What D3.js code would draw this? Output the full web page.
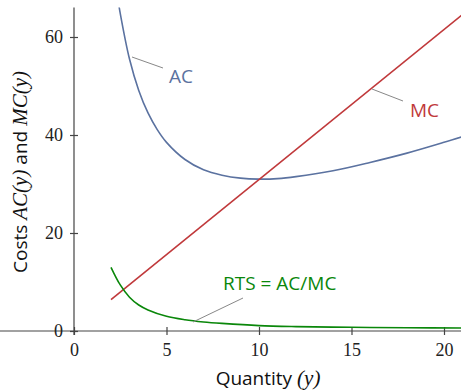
<!DOCTYPE html>
<html lang="en">
  <head>
    <meta charset="UTF-8" />
    <title>Costs AC, MC and RTS</title>
    <script src="https://d3js.org/d3.v7.min.js"></script>
    <style>
      body { margin: 0; background: #fff; }
      .tick text { font-family: "Liberation Serif", serif; font-size: 18px; fill: #222; }
      .domain, .tick line { stroke: #444; stroke-width: 1.2px; }
      .lbl { font-family: "Open Sans", sans-serif; font-size: 19px; }
      .math { font-family: "Liberation Serif", serif; font-style: italic; font-size: 21px; }
      .leader { stroke: #888; stroke-width: 1px; }
    </style>
  </head>
  <body>
    <svg width="461" height="390"></svg>
    <script>
      // values
      const acX = [2.4, 2.5, 3, 3.5, 4, 4.5, 5, 6, 7, 8, 9, 10, 11, 12, 14, 16, 18, 20, 21.2];
      const acY = [67.1, 64.8, 55.5, 49.1, 44.5, 41.1, 38.5, 35.0, 32.9, 31.8, 31.2, 31.0, 31.1, 31.5, 32.7, 34.4, 36.3, 38.5, 39.9];
      const mcX = [2, 21.2];
      const mcY = [6.4, 65.2];
      const rtsX = [2, 2.5, 3, 3.5, 4, 5, 6, 7, 8, 10, 12, 15, 18, 21.2];
      const rtsY = [13.0, 9.4, 6.9, 5.3, 4.3, 3.0, 2.3, 1.85, 1.55, 1.1, 0.9, 0.75, 0.66, 0.6];
      const xTicks = [0, 5, 10, 15, 20];
      const yTicks = [0, 20, 40, 60];

      const svg = d3.select("svg");
      const x = d3.scaleLinear().domain([0, 21.2]).range([74, 466.2]);
      const y = d3.scaleLinear().domain([0, 66]).range([331, 7.6]);

      svg.append("clipPath").attr("id", "plot")
        .append("rect").attr("x", 74).attr("y", y(66)).attr("width", 400).attr("height", 331 - y(66));

      // axes, ticks cross the line
      const gx = svg.append("g").attr("transform", "translate(0,331)")
        .call(d3.axisBottom(x).tickValues(xTicks).tickSize(4).tickSizeOuter(0).tickPadding(8));
      gx.selectAll(".tick line").attr("y1", -4).attr("y2", 4);
      gx.select(".domain").attr("d", "M-4,0H" + x(21.2));
      gx.selectAll(".tick text").attr("dy", "0.71em").attr("y", 12);

      const gy = svg.append("g").attr("transform", "translate(74,0)")
        .call(d3.axisLeft(y).tickValues(yTicks).tickSize(4).tickSizeOuter(0).tickPadding(8));
      gy.selectAll(".tick line").attr("x1", -4).attr("x2", 4);
      gy.select(".domain").attr("d", "M0," + y(66) + "V335");
      gy.selectAll(".tick text").attr("x", -11);

      const line = d3.line().x(d => x(d[0])).y(d => y(d[1])).curve(d3.curveCatmullRom);
      const plot = svg.append("g").attr("clip-path", "url(#plot)");

      plot.append("path").datum(d3.zip(acX, acY)).attr("d", line)
        .attr("fill", "none").attr("stroke", "#5b72a0").attr("stroke-width", 1.6);
      plot.append("path").datum(d3.zip(mcX, mcY)).attr("d", line)
        .attr("fill", "none").attr("stroke", "#c0393b").attr("stroke-width", 1.6);
      plot.append("path").datum(d3.zip(rtsX, rtsY)).attr("d", line)
        .attr("fill", "none").attr("stroke", "#0a870a").attr("stroke-width", 1.6);

      // labels with leader lines
      svg.append("line").attr("class", "leader").attr("x1", 132).attr("y1", 57).attr("x2", 163).attr("y2", 68);
      svg.append("text").attr("class", "lbl").attr("x", 169).attr("y", 83).attr("fill", "#5b72a0").text("AC");

      svg.append("line").attr("class", "leader").attr("x1", 372).attr("y1", 89).attr("x2", 403).attr("y2", 101);
      svg.append("text").attr("class", "lbl").attr("x", 410).attr("y", 117).attr("fill", "#c0393b").text("MC");

      svg.append("line").attr("class", "leader").attr("x1", 193).attr("y1", 322).attr("x2", 243).attr("y2", 298);
      svg.append("text").attr("class", "lbl").attr("x", 223).attr("y", 290).attr("fill", "#0a870a").text("RTS = AC/MC");

      // axis titles
      const xt = svg.append("text").attr("class", "lbl").attr("x", 268).attr("y", 385)
        .attr("text-anchor", "middle").attr("fill", "#111");
      xt.append("tspan").text("Quantity ");
      xt.append("tspan").attr("class", "math").text("(y)");

      const yt = svg.append("text").attr("class", "lbl")
        .attr("transform", "translate(27,172) rotate(-90)")
        .attr("text-anchor", "middle").attr("fill", "#111");
      yt.append("tspan").text("Costs ");
      yt.append("tspan").attr("class", "math").text("AC(y)");
      yt.append("tspan").text(" and ");
      yt.append("tspan").attr("class", "math").text("MC(y)");
    </script>
  </body>
</html>
